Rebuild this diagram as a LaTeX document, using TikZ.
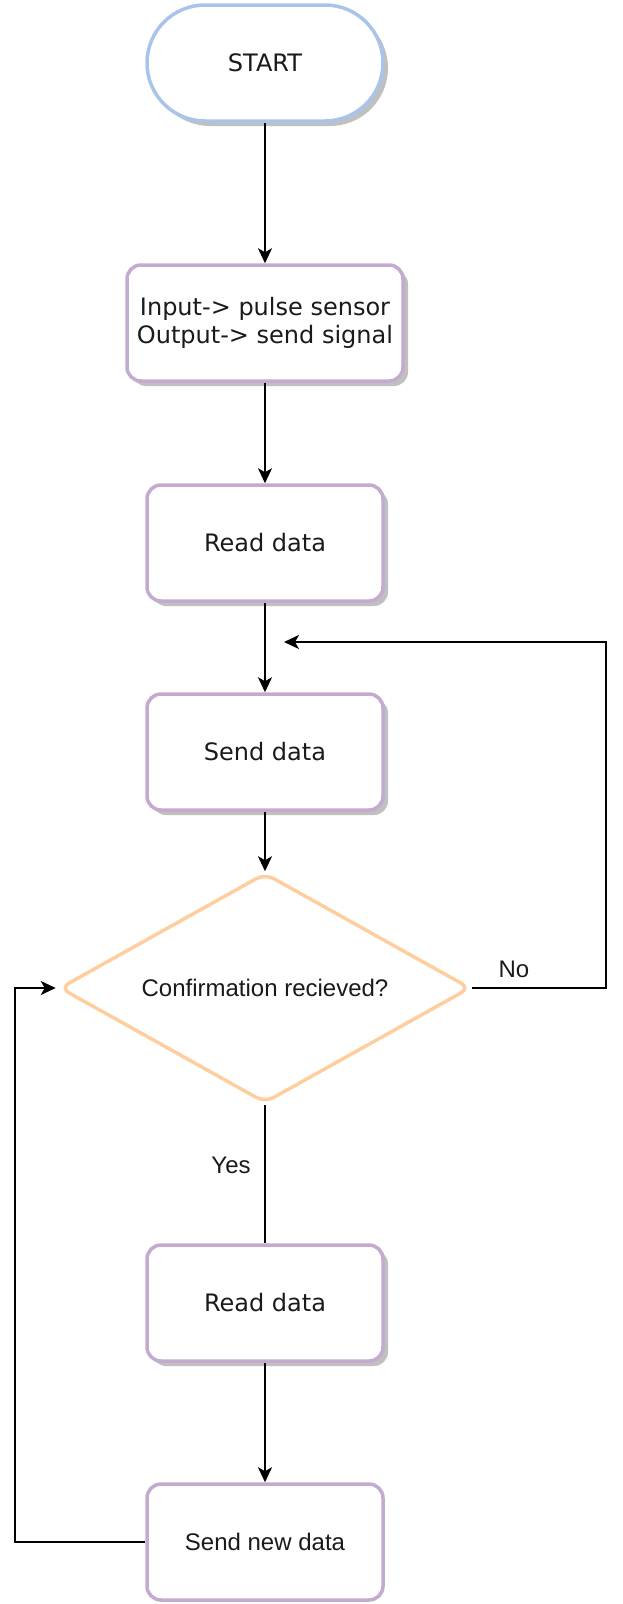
\documentclass[tikz,border=0pt]{standalone}
\usepackage{fontspec}
\setmainfont{Liberation Sans}
\newfontfamily\boxfont{DejaVu Sans}
\usetikzlibrary{arrows.meta,shapes.geometric,shadows}
\definecolor{startblue}{HTML}{A9C4EB}
\definecolor{boxpurple}{HTML}{C3ABD0}
\definecolor{decorange}{HTML}{FFCE9F}
\definecolor{shadowgray}{HTML}{C0C0C0}
\definecolor{textgray}{HTML}{1A1A1A}

\begin{document}
\begin{tikzpicture}[x=1pt, y=-1pt,
        box/.style={draw=boxpurple, line width=3.5pt, rounded corners=14pt, fill=white, minimum width=236pt, minimum height=116pt, align=center, text=textgray, font=\boxfont\fontsize{24}{28}\selectfont},
        shadowbox/.style={box, drop shadow={shadow xshift=5pt, shadow yshift=-5pt, fill=shadowgray, opacity=1}},
        decision/.style={diamond, draw=decorange, line width=3.5pt, rounded corners=10pt, fill=white, minimum width=411pt, minimum height=230pt, inner sep=0pt},
        lbl/.style={text=textgray, font=\fontsize{24}{28}\selectfont},
        arrow/.style={-{Stealth[length=15pt, width=14pt, inset=4pt]}, line width=2pt},
        line/.style={line width=2pt}
    ]
        \useasboundingbox (0,0) rectangle (622,1604);

        % Ablauf
        \node[shadowbox, draw=startblue, rounded corners=58pt] (start) at (265, 63) {START};
        \node[shadowbox, minimum width=276pt] (input) at (265, 323) {Input-> pulse sensor\\Output-> send signal};
        \node[shadowbox] (read) at (265, 543) {Read data};
        \node[shadowbox] (send) at (265, 752) {Send data};
        \node[decision, label={[lbl]center:Confirmation recieved?}] (confirm) at (265, 988) {};
        \node[shadowbox] (readagain) at (265, 1303) {Read data};
        \node[box, font=\fontsize{24}{28}\selectfont] (sendnew) at (265, 1542) {Send new data};

        \draw[arrow] (start) -- (input);
        \draw[arrow] (input) -- (read);
        \draw[arrow] (read) -- (send);
        \draw[arrow] (send) -- (confirm);
        \draw[line] (confirm) -- (readagain);
        \draw[arrow] (readagain) -- (sendnew);

        % Rueckfuehrungen
        \coordinate (noturn) at (606, 988);
        \coordinate (noback) at (284, 642);
        \draw[arrow] (confirm.east) -- (noturn) |- (noback);
        \coordinate (newturn) at (15, 1542);
        \draw[arrow, shorten >=2pt] (sendnew.west) -- (newturn) |- (confirm.west);

        % Beschriftungen
        \node[lbl] (no) at (514, 969) {No};
        \node[lbl] (yes) at (231, 1165) {Yes};
    \end{tikzpicture}
\end{document}
